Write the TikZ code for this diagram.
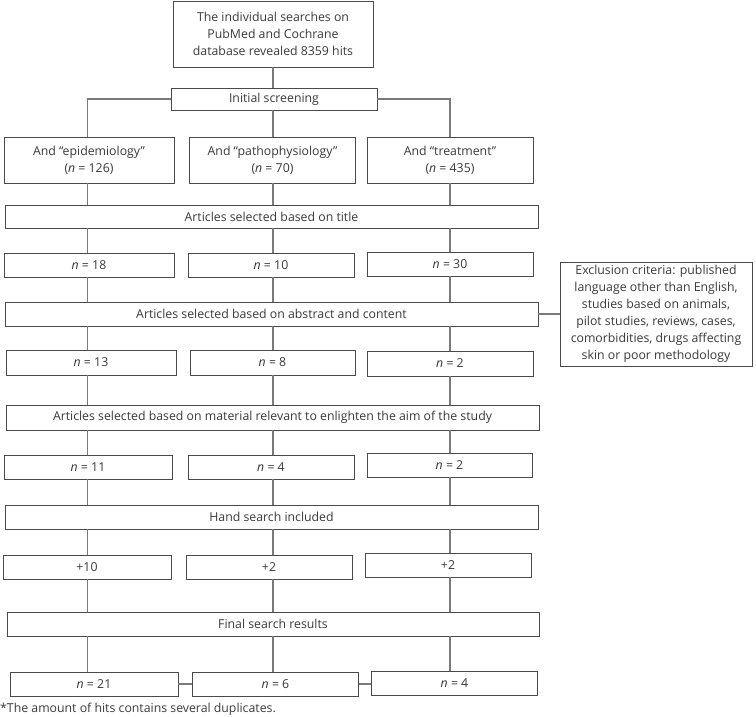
\documentclass[tikz,border=0pt]{standalone}
\usepackage{fontspec}
\setmainfont{Open Sans}
\definecolor{boxc}{HTML}{4A4A4A}
\definecolor{linec}{HTML}{7A7A7A}
\definecolor{txt}{HTML}{3A3A3A}
\newcommand{\fs}{\fontsize{12.3bp}{17bp}\selectfont}
\tikzset{
  box/.style={draw=boxc, line width=0.9bp, inner sep=0pt, text=txt, align=center, font=\fs, fill=white},
  wide/.style={box, minimum width=533bp, minimum height=23bp},
  small/.style={box, minimum width=167bp, minimum height=24bp},
  conn/.style={draw=linec, line width=1.3bp},
}
\begin{document}
\begin{tikzpicture}[x=1bp, y=-1bp]
\useasboundingbox (0,0) rectangle (756,717);
\coordinate (c1) at (87.5,0);
\coordinate (c2) at (273,0);
\coordinate (c3) at (450,0);
% nodes
\node[box, minimum width=200bp, minimum height=66bp] (top) at (273,34) {The individual searches on\\PubMed and Cochrane\\database revealed 8359 hits};
\node[box, minimum width=206bp, minimum height=22bp] (init) at (274,99) {Initial screening};
\node[box, minimum width=170bp, minimum height=46bp] (e1) at (89,160) {And “epidemiology”\\(\textit{n} = 126)};
\node[box, minimum width=166bp, minimum height=46bp] (e2) at (272.5,160) {And “pathophysiology”\\(\textit{n} = 70)};
\node[box, minimum width=166bp, minimum height=46bp] (e3) at (450,160) {And “treatment”\\(\textit{n} = 435)};
\node[wide] (t1) at (271.5,216.5) {Articles selected based on title};
\node[small, minimum width=170bp] (a1) at (89,265) {\textit{n} = 18};
\node[small, minimum width=166bp] (a2) at (271,265) {\textit{n} = 10};
\node[small, minimum width=166bp] (a3) at (450,264) {\textit{n} = 30};
\node[wide, minimum height=24bp] (t2) at (271.5,314) {Articles selected based on abstract and content};
\node[box, minimum width=192bp, minimum height=104bp] (ex) at (656,314) {Exclusion criteria: published\\language other than English,\\studies based on animals,\\pilot studies, reviews, cases,\\comorbidities, drugs affecting\\skin or poor methodology};
\node[small, minimum width=170bp, minimum height=25bp] (b1) at (91,362.5) {\textit{n} = 13};
\node[small, minimum width=165bp, minimum height=25bp] (b2) at (272.5,362.5) {\textit{n} = 8};
\node[small, minimum width=166bp, minimum height=25bp] (b3) at (450,363.5) {\textit{n} = 2};
\node[wide, minimum height=25bp] (t3) at (272.5,417.5) {Articles selected based on material relevant to enlighten the aim of the study};
\node[small, minimum width=168bp] (d1) at (88,467) {\textit{n} = 11};
\node[small, minimum width=166bp] (d2) at (271,467) {\textit{n} = 4};
\node[small, minimum width=165bp] (d3) at (449.5,465) {\textit{n} = 2};
\node[wide, minimum height=24bp] (t4) at (271.5,517) {Hand search included};
\node[small, minimum width=168bp] (f1) at (87,567) {+10};
\node[small, minimum width=166bp] (f2) at (269,567) {+2};
\node[small, minimum width=166bp] (f3) at (448,565) {+2};
\node[wide, minimum width=532bp, minimum height=24bp] (t5) at (273,624) {Final search results};
\node[small, minimum width=168bp] (g1) at (94,684) {\textit{n} = 21};
\node[small, minimum width=166bp] (g2) at (275.5,684) {\textit{n} = 6};
\node[small, minimum width=166bp] (g3) at (454.5,683) {\textit{n} = 4};
\node[anchor=west, inner sep=0pt, text=txt, font=\fs] (foot) at (0,709) {*The amount of hits contains several duplicates.};
% connectors
\draw[conn] (top.south) -- (top.south |- init.north);
\draw[conn] (init.west) -- (c1 |- init.west) -- (c1 |- e1.north);
\draw[conn] (init.east) -- (c3 |- init.east) -- (c3 |- e3.north);
\draw[conn] (c2 |- init.south) -- (c2 |- e2.north);
\foreach \u/\l in {e1/t1,t1/a1,a1/t2,t2/b1,b1/t3,t3/d1,d1/t4,t4/f1,f1/t5,t5/g1}
  \draw[conn] (c1 |- \u.south) -- (c1 |- \l.north);
\foreach \u/\l in {e2/t1,t1/a2,a2/t2,t2/b2,b2/t3,t3/d2,d2/t4,t4/f2,f2/t5,t5/g2}
  \draw[conn] (c2 |- \u.south) -- (c2 |- \l.north);
\foreach \u/\l in {e3/t1,t1/a3,a3/t2,t2/b3,b3/t3,t3/d3,d3/t4,t4/f3,f3/t5,t5/g3}
  \draw[conn] (c3 |- \u.south) -- (c3 |- \l.north);
\draw[conn] (t2.east) -- (ex.west |- t2.east);
\draw[conn] (g1.east) -- (g1.east -| g2.west);
\draw[conn] (g2.east) -- (g2.east -| g3.west);
\end{tikzpicture}
\end{document}
